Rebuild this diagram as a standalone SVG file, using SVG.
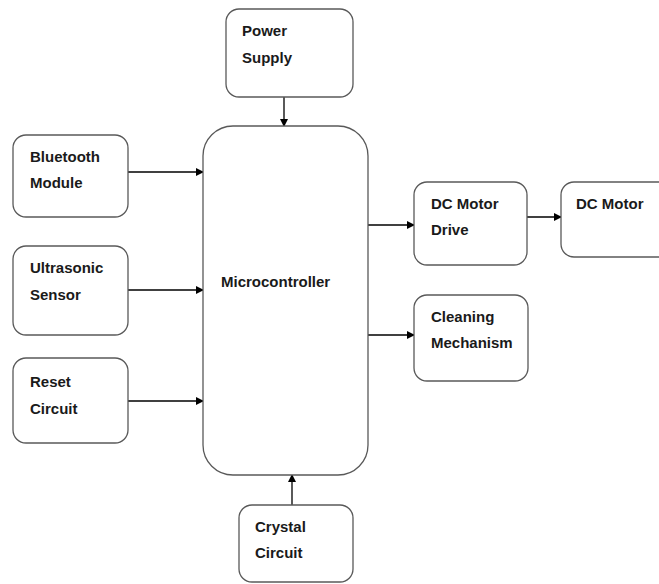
<svg xmlns="http://www.w3.org/2000/svg" width="659" height="584" viewBox="0 0 659 584">
<style>
.box{fill:#fff;stroke:#595959;stroke-width:1.3}
.t{font-family:"Liberation Sans",Arial,sans-serif;font-weight:bold;font-size:15px;fill:#1a1a1a}
.c{stroke:#000;stroke-width:1.3;fill:none;marker-end:url(#ah)}
</style>
<defs>
<marker id="ah" markerWidth="8" markerHeight="8" refX="7" refY="4" orient="auto" markerUnits="userSpaceOnUse">
<path d="M0,0 L8,4 L0,8 z" fill="#000"/>
</marker>
</defs>
<rect width="659" height="584" fill="#fff"/>
<g id="connectors">
<line class="c" x1="284" y1="97" x2="284" y2="126"/>
<line class="c" x1="128" y1="172" x2="203" y2="172"/>
<line class="c" x1="128" y1="290" x2="203" y2="290"/>
<line class="c" x1="128" y1="401" x2="203" y2="401"/>
<line class="c" x1="368" y1="225" x2="414" y2="225"/>
<line class="c" x1="527" y1="217" x2="561" y2="217"/>
<line class="c" x1="368" y1="335" x2="414" y2="335"/>
<line class="c" x1="292" y1="505" x2="292" y2="475"/>
</g>
<g id="power-supply">
<rect class="box" x="226" y="9" width="127" height="88" rx="13"/>
<text class="t" x="242" y="36">Power</text>
<text class="t" x="242" y="63">Supply</text>
</g>
<g id="microcontroller">
<rect class="box" x="203" y="126" width="165" height="349" rx="30"/>
<text class="t" x="221" y="287">Microcontroller</text>
</g>
<g id="bluetooth">
<rect class="box" x="13" y="135" width="115" height="82" rx="13"/>
<text class="t" x="30" y="162">Bluetooth</text>
<text class="t" x="30" y="188">Module</text>
</g>
<g id="ultrasonic">
<rect class="box" x="13" y="246" width="115" height="89" rx="13"/>
<text class="t" x="30" y="273">Ultrasonic</text>
<text class="t" x="30" y="300">Sensor</text>
</g>
<g id="reset">
<rect class="box" x="13" y="358" width="115" height="85" rx="13"/>
<text class="t" x="30" y="387">Reset</text>
<text class="t" x="30" y="414">Circuit</text>
</g>
<g id="dc-motor-drive">
<rect class="box" x="414" y="182" width="113" height="83" rx="13"/>
<text class="t" x="431" y="209">DC Motor</text>
<text class="t" x="431" y="235">Drive</text>
</g>
<g id="dc-motor">
<rect class="box" x="561" y="182" width="120" height="75" rx="13"/>
<text class="t" x="576" y="209">DC Motor</text>
</g>
<g id="cleaning">
<rect class="box" x="414" y="295" width="114" height="86" rx="13"/>
<text class="t" x="431" y="322">Cleaning</text>
<text class="t" x="431" y="348">Mechanism</text>
</g>
<g id="crystal">
<rect class="box" x="239" y="505" width="114" height="77" rx="13"/>
<text class="t" x="255" y="532">Crystal</text>
<text class="t" x="255" y="558">Circuit</text>
</g>
</svg>
